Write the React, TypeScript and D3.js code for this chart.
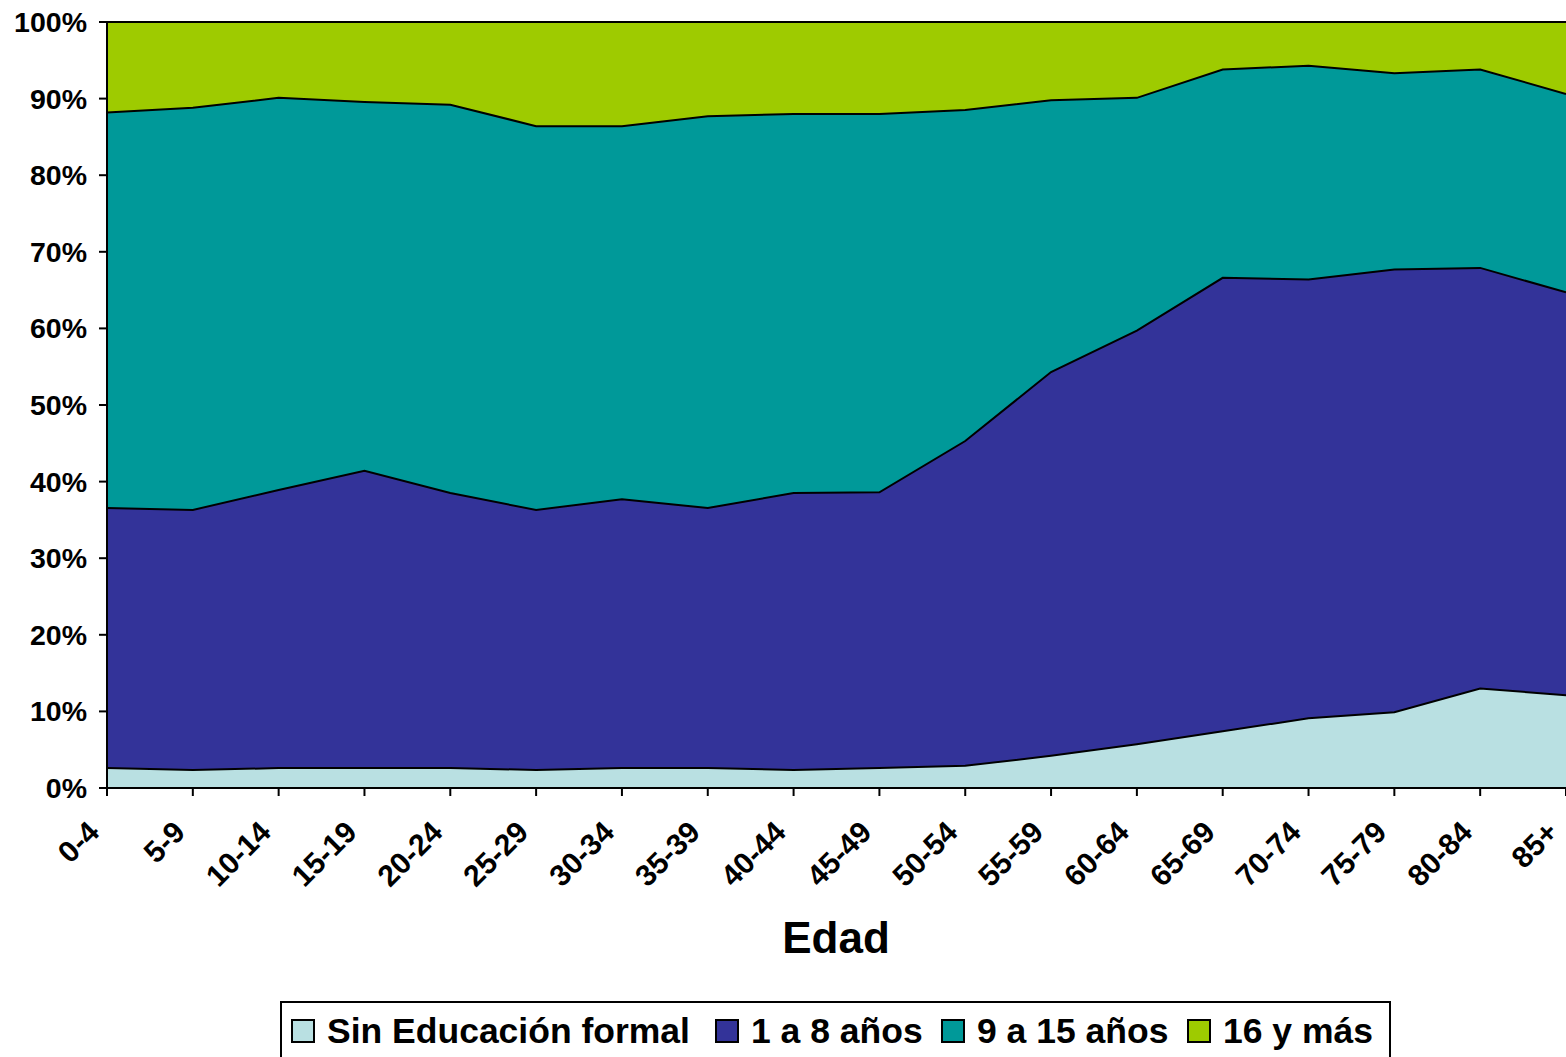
import React from "react";
import * as d3 from "d3";

const categories = ["0-4","5-9","10-14","15-19","20-24","25-29","30-34","35-39","40-44","45-49","50-54","55-59","60-64","65-69","70-74","75-79","80-84","85+"];
const seriesNames = ["Sin Educación formal", "1 a 8 años", "9 a 15 años", "16 y más"];
const sinEducacion = [2.6,2.35,2.6,2.6,2.6,2.35,2.6,2.6,2.35,2.6,2.9,4.2,5.7,7.4,9.1,9.9,13.0,12.1];
const unoAOcho = [33.95,33.95,36.3,38.8,35.9,33.95,35.1,33.95,36.15,36.0,42.4,50.1,54.0,59.2,57.3,57.8,54.9,52.6];
const nueveAQuince = [51.65,52.5,51.2,48.15,50.7,50.1,48.7,51.15,49.5,49.4,43.2,35.5,30.4,27.2,27.9,25.6,25.9,25.9];
const dieciseisYMas = [11.8,11.2,9.9,10.45,10.8,13.6,13.6,12.3,12.0,12.0,11.5,10.2,9.9,6.2,5.7,6.7,6.2,9.4];
const yTicks = [0,10,20,30,40,50,60,70,80,90,100];
const colors = ["#B9E0E2", "#333399", "#009999", "#9ECB00"];

export default function App() {
  const W = 1566, H = 1057;
  const left = 107, right = 1566, top = 22, bottom = 788;
  const keys = ["s0","s1","s2","s3"];
  const rows = categories.map((c, i) => {
    const vals = [sinEducacion[i], unoAOcho[i], nueveAQuince[i], dieciseisYMas[i]];
    const tot = d3.sum(vals);
    const r: any = { cat: c };
    keys.forEach((k, j) => (r[k] = (vals[j] / tot) * 100));
    return r;
  });
  const stacked = d3.stack().keys(keys)(rows);
  const x = d3.scalePoint().domain(categories).range([left, right]);
  const y = d3.scaleLinear().domain([0, 100]).range([bottom, top]);
  const area = d3.area<any>().x((d: any) => x(d.data.cat)!).y0((d: any) => y(d[0])).y1((d: any) => y(d[1]));
  const line = d3.line<any>().x((d: any) => x(d.data.cat)!).y((d: any) => y(d[1]));

  const font = "'Liberation Sans', Arial, sans-serif";

  const legendItems = [
    { name: seriesNames[0], x: 292 },
    { name: seriesNames[1], x: 716 },
    { name: seriesNames[2], x: 942 },
    { name: seriesNames[3], x: 1188 },
  ];

  return (
    <svg width={W} height={H} style={{ position: "absolute", left: 0, top: 0, background: "#fff" }} fontFamily={font}>
      {stacked.map((s, i) => (
        <path key={"a" + i} d={area(s as any)!} fill={colors[i]} stroke="none" />
      ))}
      {stacked.slice(0, 3).map((s, i) => (
        <path key={"l" + i} d={line(s as any)!} fill="none" stroke="#000" strokeWidth={2} />
      ))}
      <line x1={left} x2={right} y1={top} y2={top} stroke="#000" strokeWidth={2} />
      <line x1={left} x2={left} y1={top} y2={bottom} stroke="#000" strokeWidth={2} />
      <line x1={left} x2={right} y1={bottom} y2={bottom} stroke="#000" strokeWidth={2} />
      {yTicks.map((t) => (
        <g key={"y" + t}>
          <line x1={left - 8} x2={left} y1={y(t)} y2={y(t)} stroke="#000" strokeWidth={2} />
          <text x={87} y={y(t) + 10} textAnchor="end" fontSize={28.5} fontWeight="bold">{t}%</text>
        </g>
      ))}
      {categories.map((c) => (
        <g key={"x" + c}>
          <line x1={x(c)!} x2={x(c)!} y1={bottom} y2={bottom + 8} stroke="#000" strokeWidth={2} />
          <text transform={`translate(${x(c)! - 6},${834}) rotate(-45)`} textAnchor="end" fontSize={30} fontWeight="bold">{c}</text>
        </g>
      ))}
      <text x={836} y={953} textAnchor="middle" fontSize={44} fontWeight="bold">Edad</text>
      <rect x={281} y={1002} width={1109} height={60} fill="#fff" stroke="#000" strokeWidth={2} />
      {legendItems.map((it, i) => (
        <g key={"lg" + i}>
          <rect x={it.x} y={1020} width={22} height={22} fill={colors[i]} stroke="#000" strokeWidth={2} />
          <text x={it.x + 35} y={1043} fontSize={35.5} fontWeight="bold">{it.name}</text>
        </g>
      ))}
    </svg>
  );
}
